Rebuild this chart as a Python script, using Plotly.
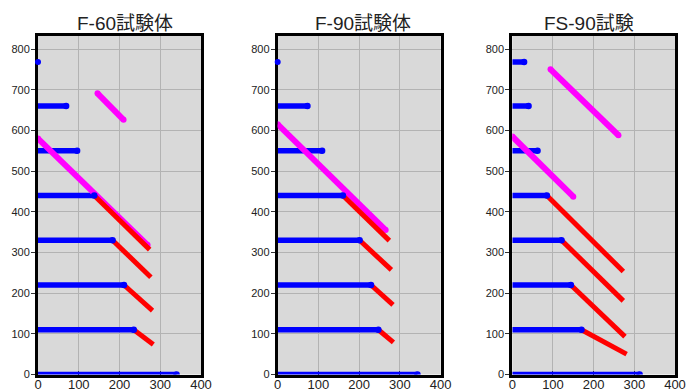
import plotly.graph_objects as go

# ---- data ----
titles = ["F-60試験体", "F-90試験体", "FS-90試験"]
levels = [0, 110, 220, 330, 440, 550, 660, 768]

# blue horizontal segments: from x=0 to end x, at each level
f60_blue_end = [340, 235, 211, 183, 138, 96, 69, 0]
f90_blue_end = [343, 247, 229, 201, 160, 109, 73, 0]
fs90_blue_end = [313, 170, 144, 121, 85, 62, 40, 29]

# red segments: start at blue end of levels 110..440, end points below
red_levels = [110, 220, 330, 440]
f60_red_end_x = [283, 281, 277, 274]
f60_red_end_y = [74, 157, 239, 307]
f90_red_end_x = [284, 283, 279, 274]
f90_red_end_y = [79, 171, 257, 329]
fs90_red_end_x = [281, 277, 273, 273]
fs90_red_end_y = [50, 93, 181, 253]

# magenta segments (start x, start y, end x, end y)
f60_mag_x0 = [0, 146]
f60_mag_y0 = [580, 691]
f60_mag_x1 = [269, 210]
f60_mag_y1 = [318, 626]
f90_mag_x0 = [0]
f90_mag_y0 = [615]
f90_mag_x1 = [265]
f90_mag_y1 = [355]
fs90_mag_x0 = [0, 94]
fs90_mag_y0 = [585, 750]
fs90_mag_x1 = [150, 261]
fs90_mag_y1 = [437, 588]
fs90_mag_dot_x = [13]
fs90_mag_dot_y = [846]

x_ticks = [0, 100, 200, 300, 400]
y_ticks = [0, 100, 200, 300, 400, 500, 600, 700, 800]

BLUE = "#0000ff"
RED = "#ff0000"
MAG = "#ff00ff"

specimens = [
    (f60_blue_end, f60_red_end_x, f60_red_end_y,
     (f60_mag_x0, f60_mag_y0, f60_mag_x1, f60_mag_y1), None),
    (f90_blue_end, f90_red_end_x, f90_red_end_y,
     (f90_mag_x0, f90_mag_y0, f90_mag_x1, f90_mag_y1), None),
    (fs90_blue_end, fs90_red_end_x, fs90_red_end_y,
     (fs90_mag_x0, fs90_mag_y0, fs90_mag_x1, fs90_mag_y1),
     (fs90_mag_dot_x, fs90_mag_dot_y)),
]

fig = go.Figure()

for k, (blue_end, rex, rey, mag, dot) in enumerate(specimens):
    xa = "x" if k == 0 else f"x{k+1}"
    ya = "y" if k == 0 else f"y{k+1}"
    # blue
    for lv, xe in zip(levels, blue_end):
        if xe == 0:
            fig.add_trace(go.Scatter(x=[0], y=[lv], mode="markers",
                                     marker=dict(color=BLUE, size=6),
                                     cliponaxis=False, xaxis=xa, yaxis=ya,
                                     showlegend=False, hoverinfo="skip"))
        else:
            fig.add_trace(go.Scatter(x=[0, xe], y=[lv, lv], mode="lines",
                                     line=dict(color=BLUE, width=5.5),
                                     xaxis=xa, yaxis=ya,
                                     showlegend=False, hoverinfo="skip"))
    # magenta
    mx0, my0, mx1, my1 = mag
    for a, b, c, d in zip(mx0, my0, mx1, my1):
        fig.add_trace(go.Scatter(x=[a, c], y=[b, d], mode="lines+markers",
                                 line=dict(color=MAG, width=6),
                                 marker=dict(color=MAG, size=6),
                                 xaxis=xa, yaxis=ya,
                                 showlegend=False, hoverinfo="skip"))
    if dot is not None:
        fig.add_trace(go.Scatter(x=dot[0], y=dot[1], mode="markers",
                                 marker=dict(color=MAG, size=5),
                                 cliponaxis=False, xaxis=xa, yaxis=ya,
                                 showlegend=False, hoverinfo="skip"))
    # red
    for lv, xe, ye in zip(red_levels, rex, rey):
        xs = blue_end[levels.index(lv)]
        fig.add_trace(go.Scatter(x=[xs, xe], y=[lv, ye], mode="lines",
                                 line=dict(color=RED, width=5),
                                 xaxis=xa, yaxis=ya,
                                 showlegend=False, hoverinfo="skip"))
    # blue end dots on top
    xe_list = [xe for xe in blue_end if xe > 0]
    lv_list = [lv for lv, xe in zip(levels, blue_end) if xe > 0]
    fig.add_trace(go.Scatter(x=xe_list, y=lv_list, mode="markers",
                             marker=dict(color=BLUE, size=6.5),
                             xaxis=xa, yaxis=ya,
                             showlegend=False, hoverinfo="skip"))

W, H = 697, 391
x_domains = [(38 / W, 201 / W), (277.7 / W, 440.7 / W), (512.3 / W, 675 / W)]
y_domain = (1 - 374.5 / H, 1 - 36 / H)
title_x = [124.5, 363, 589]

font_fam = "Liberation Sans, Arial, Noto Sans CJK JP, sans-serif"

layout = dict(
    width=W, height=H,
    margin=dict(l=0, r=0, t=0, b=0, autoexpand=False),
    paper_bgcolor="white",
    plot_bgcolor="#d9d9d9",
    font=dict(family=font_fam, color="#222222"),
    showlegend=False,
    annotations=[],
)

for k in range(3):
    sx = "xaxis" if k == 0 else f"xaxis{k+1}"
    sy = "yaxis" if k == 0 else f"yaxis{k+1}"
    layout[sx] = dict(
        domain=list(x_domains[k]), range=[0, 400], anchor="y" if k == 0 else f"y{k+1}",
        tickvals=x_ticks, ticktext=[str(v) for v in x_ticks],
        showgrid=True, gridcolor="#b3b3b3", gridwidth=1,
        showline=True, mirror=True, linecolor="black", linewidth=3,
        ticks="inside", ticklen=4, tickcolor="#333333", tickwidth=1,
        tickfont=dict(size=13, color="#222222"), ticklabelstandoff=-4,
        zeroline=False, layer="below traces", fixedrange=True, automargin=False,
    )
    layout[sy] = dict(
        domain=list(y_domain), range=[0, 832], anchor="x" if k == 0 else f"x{k+1}",
        tickvals=y_ticks, ticktext=[str(v) for v in y_ticks],
        showgrid=True, gridcolor="#b3b3b3", gridwidth=1,
        showline=True, mirror=True, linecolor="black", linewidth=3,
        ticks="outside", ticklen=4, tickcolor="#333333", tickwidth=1,
        tickfont=dict(size=11, color="#222222"), ticklabelstandoff=-1,
        zeroline=False, layer="below traces", fixedrange=True, automargin=False,
    )
    layout["annotations"].append(dict(
        text=titles[k], xref="paper", yref="paper",
        x=title_x[k] / W, y=1 - 23 / H, xanchor="center", yanchor="middle",
        showarrow=False, font=dict(size=19, color="#222222",
                                   family=font_fam),
    ))

fig.update_layout(**layout)
fig.write_html("out.html")
